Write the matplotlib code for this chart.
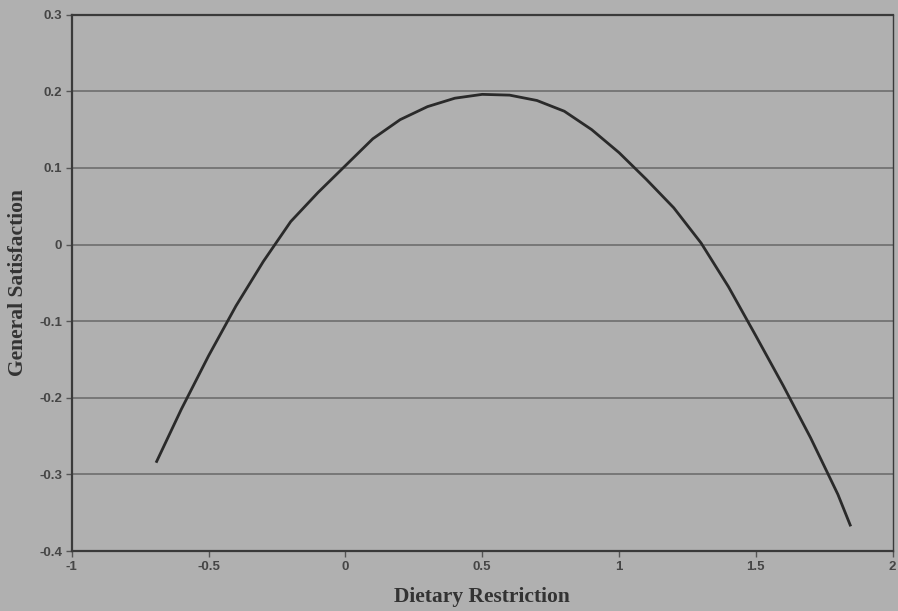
import matplotlib.pyplot as plt
import numpy as np

# curve
restriction = [-0.69, -0.6, -0.5, -0.4, -0.3, -0.2, -0.1, 0.0, 0.1, 0.2, 0.3, 0.4,
               0.5, 0.6, 0.7, 0.8, 0.9, 1.0, 1.1, 1.2, 1.3, 1.4, 1.5, 1.6, 1.7,
               1.8, 1.845]
satisfaction = [-0.283, -0.215, -0.145, -0.08, -0.022, 0.03, 0.068, 0.103, 0.138,
                0.163, 0.18, 0.191, 0.196, 0.195, 0.188, 0.174, 0.15, 0.12, 0.085,
                0.048, 0.002, -0.055, -0.119, -0.184, -0.252, -0.326, -0.366]

x_ticks = [-1, -0.5, 0, 0.5, 1, 1.5, 2]
x_tick_labels = ['-1', '-0.5', '0', '0.5', '1', '1.5', '2']
y_ticks = [-0.4, -0.3, -0.2, -0.1, 0, 0.1, 0.2, 0.3]
y_tick_labels = ['-0.4', '-0.3', '-0.2', '-0.1', '0', '0.1', '0.2', '0.3']

paper = '#b0b0b0'
ink = '#2a2a2a'

fig = plt.figure(figsize=(8.98, 6.11), dpi=100, facecolor=paper)
ax = fig.add_axes([0.080, 0.098, 0.914, 0.878], facecolor=paper)

for yv in y_ticks[1:-1]:
    ax.axhline(yv, color='#727272', lw=1.3, zorder=1)

ax.plot(restriction, satisfaction, color=ink, lw=2.0, zorder=3,
        solid_joinstyle='round')

ax.set_xlim(-1, 2)
ax.set_ylim(-0.4, 0.3)
ax.set_xticks(x_ticks)
ax.set_xticklabels(x_tick_labels)
ax.set_yticks(y_ticks)
ax.set_yticklabels(y_tick_labels)

for side in ['left', 'bottom', 'top', 'right']:
    ax.spines[side].set_color('#3a3a3a')
    ax.spines[side].set_linewidth(1.6)
ax.spines['right'].set_linewidth(1.0)

ax.tick_params(axis='both', direction='out', length=4, width=1, color='#555555',
               labelsize=9.5, labelcolor='#454545', pad=3)
for lab in ax.get_xticklabels() + ax.get_yticklabels():
    lab.set_fontfamily('Liberation Sans')
    lab.set_fontweight('bold')

ax.set_xlabel('Dietary Restriction', fontfamily='Liberation Serif', fontweight='bold',
              fontsize=15.5, color='#333333', va='center', ha='center')
ax.set_ylabel('General Satisfaction', fontfamily='Liberation Serif', fontweight='bold',
              fontsize=15.5, color='#333333', va='center', ha='center')
ax.xaxis.set_label_coords(0.5, -0.0855)
ax.yaxis.set_label_coords(-0.066, 0.5)

fig.savefig('out.png', dpi=100, facecolor=paper)
